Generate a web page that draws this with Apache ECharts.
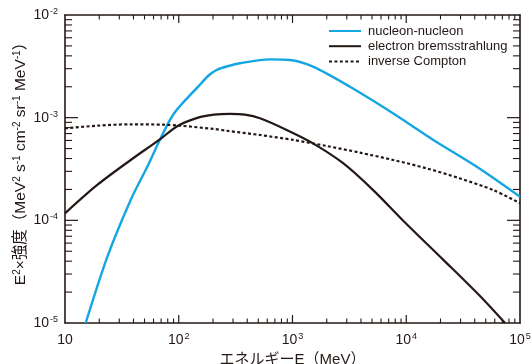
<!DOCTYPE html>
<html>
<head>
<meta charset="utf-8">
<script src="https://cdn.jsdelivr.net/npm/echarts@6/dist/echarts.min.js"></script>
<style>html,body{margin:0;padding:0;background:#fff;}#c{width:532px;height:364px;}</style>
</head>
<body>
<div id="c"></div>
<script>
// ---- data (E in MeV, E^2 x intensity in MeV^2 s^-1 cm^-2 sr^-1 MeV^-1) ----
const nnE   = [15.2, 23.6, 37.8, 52.9, 69.3, 90.8, 153.8, 182, 215, 263, 345, 631, 951, 1514, 3199, 7691, 17300, 41700, 100000];
const nnV   = [1.0e-5, 4.43e-5, 1.58e-4, 3.33e-4, 6.30e-4, 1.10e-3, 2.10e-3, 2.56e-3, 2.91e-3, 3.15e-3, 3.39e-3, 3.70e-3, 3.65e-3, 3.14e-3, 2.00e-3, 1.10e-3, 6.07e-4, 3.33e-4, 1.70e-4];
const ebE   = [10, 19.2, 37.8, 69.3, 97, 145.5, 204, 282, 382, 518, 889, 1514, 2786, 5117, 10000, 21200, 44500, 73800];
const ebV   = [1.17e-4, 2.21e-4, 3.87e-4, 6.22e-4, 8.26e-4, 9.95e-4, 1.07e-3, 1.09e-3, 1.07e-3, 9.86e-4, 7.59e-4, 5.62e-4, 3.60e-4, 1.97e-4, 9.27e-5, 4.12e-5, 1.83e-5, 1.0e-5];
const icE   = [10, 19.2, 37.8, 74.1, 103.5, 204, 263, 518, 1016, 1995, 3917, 7691, 15100, 29700, 58200, 100000];
const icV   = [7.87e-4, 8.35e-4, 8.62e-4, 8.54e-4, 8.35e-4, 7.76e-4, 7.46e-4, 6.78e-4, 6.07e-4, 5.30e-4, 4.56e-4, 3.87e-4, 3.21e-4, 2.56e-4, 1.97e-4, 1.47e-4];
const seriesNames = ['nucleon-nucleon', 'electron bremsstrahlung', 'inverse Compton'];
const xMajor = [10, 100, 1000, 10000, 100000];
const yMajor = [1e-5, 1e-4, 1e-3, 1e-2];
const xAxisName = 'エネルギーE（MeV）';
const yAxisNameRich = 'E{s|2}×強度（MeV{s|2} s{s|-1} cm{s|-2} sr{s|-1} MeV{s|-1}）';

const INK = '#231815';
const BLUE = '#14a6e2';
const xMin = 10, xMax = 1e5, yMin = 1e-5, yMax = 1e-2;

function zip(a, b) { return a.map((v, i) => [v, b[i]]); }

// minor tick values (2..9 in each decade)
const xMinor = [], yMinor = [];
for (let e = 1; e < 5; e++) for (let k = 2; k <= 9; k++) xMinor.push(k * Math.pow(10, e));
for (let e = -5; e < -2; e++) for (let k = 2; k <= 9; k++) yMinor.push(k * Math.pow(10, e));

const FONT = '"Liberation Sans", Arial, "Noto Sans CJK JP", sans-serif';

function tickLabel(isX) {
  return function (v) {
    const e = Math.round(Math.log10(v));
    if (isX && e === 1) return '{b|10}';
    return '{b|10}{s|' + e + '}';
  };
}
const labelRich = {
  b: { fontSize: 14, fontFamily: FONT, color: INK, lineHeight: 16 },
  s: { fontSize: 9, fontFamily: FONT, color: INK, lineHeight: 16, verticalAlign: 'top', padding: [0, 0, 0, 1] }
};

const chart = echarts.init(document.getElementById('c'), null, { renderer: 'canvas' });
const axisLineStyle = { color: INK, width: 1.6 };
const lineCommon = { type: 'line', symbol: 'none', showSymbol: false, smooth: 0.3, z: 3 };
chart.setOption({
  animation: false,
  backgroundColor: '#fff',
  grid: { left: 65, right: 12, top: 15, bottom: 41, containLabel: false, outerBoundsMode: 'none' },
  legend: {
    data: seriesNames,
    orient: 'vertical',
    left: 328, top: 24.5, padding: 0,
    itemWidth: 32, itemHeight: 14, itemGap: 2.2,
    itemStyle: { opacity: 0 },
    textStyle: { fontSize: 13, color: INK, fontFamily: FONT, padding: [0, 0, 0, 2] }
  },
  xAxis: [
    {
      type: 'log', logBase: 10, min: xMin, max: xMax, position: 'bottom',
      axisLine: { show: true, lineStyle: axisLineStyle },
      axisTick: { show: false },
      axisLabel: { formatter: tickLabel(true), rich: labelRich, margin: 9 },
      splitLine: { show: false },
      name: xAxisName, nameLocation: 'middle', nameGap: 22,
      nameTextStyle: { fontSize: 15, color: INK, fontFamily: FONT }
    },
    {
      type: 'log', logBase: 10, min: xMin, max: xMax, position: 'top',
      axisLine: { show: true, lineStyle: axisLineStyle },
      axisTick: { show: false }, axisLabel: { show: false }, splitLine: { show: false }
    }
  ],
  yAxis: [
    {
      type: 'log', logBase: 10, min: yMin, max: yMax, position: 'left',
      axisLine: { show: true, lineStyle: axisLineStyle },
      axisTick: { show: false },
      axisLabel: { formatter: tickLabel(false), rich: labelRich, margin: 7 },
      splitLine: { show: false }
    },
    {
      type: 'log', logBase: 10, min: yMin, max: yMax, position: 'right',
      axisLine: { show: true, lineStyle: axisLineStyle },
      axisTick: { show: false }, axisLabel: { show: false }, splitLine: { show: false }
    }
  ],
  series: [
    Object.assign({}, lineCommon, {
      name: seriesNames[0], data: zip(nnE, nnV),
      lineStyle: { color: BLUE, width: 2.4 }, itemStyle: { color: BLUE }
    }),
    Object.assign({}, lineCommon, {
      name: seriesNames[1], data: zip(ebE, ebV),
      lineStyle: { color: INK, width: 2.2 }, itemStyle: { color: INK }
    }),
    Object.assign({}, lineCommon, {
      name: seriesNames[2], data: zip(icE, icV),
      lineStyle: { color: INK, width: 2.2, type: [3, 2.4] }, itemStyle: { color: INK }
    })
  ]
});

// ticks (inside, all four sides) placed through the chart's own log scales
const xB = Number(chart.convertToPixel({ yAxisIndex: 0 }, yMin));
const xT = Number(chart.convertToPixel({ yAxisIndex: 0 }, yMax));
const yL = Number(chart.convertToPixel({ xAxisIndex: 0 }, xMin));
const yR = Number(chart.convertToPixel({ xAxisIndex: 0 }, xMax));
const els = [{
  type: 'text',
  x: 21, y: 160,
  rotation: Math.PI / 2,
  style: {
    text: yAxisNameRich,
    fill: INK,
    font: '15.5px ' + FONT,
    align: 'center', verticalAlign: 'middle',
    rich: { s: { fontSize: 10, fontFamily: FONT, fill: INK, lineHeight: 17, verticalAlign: 'top' } }
  }
}];
function tick(x1, y1, x2, y2, w) {
  els.push({ type: 'line', shape: { x1: x1, y1: y1, x2: x2, y2: y2 }, style: { stroke: INK, lineWidth: w } });
}
function xTicks(vals, len, w) {
  vals.forEach(function (v) {
    const px = Number(chart.convertToPixel({ xAxisIndex: 0 }, v));
    tick(px, xB, px, xB - len, w);
    tick(px, xT, px, xT + len, w);
  });
}
function yTicks(vals, len, w) {
  vals.forEach(function (v) {
    const py = Number(chart.convertToPixel({ yAxisIndex: 0 }, v));
    tick(yL, py, yL + len, py, w);
    tick(yR, py, yR - len, py, w);
  });
}
xTicks(xMajor.slice(1, -1), 8, 1.2);
xTicks(xMinor, 4.5, 1.1);
yTicks(yMajor.slice(1, -1), 13, 1.2);
yTicks(yMinor, 7, 1.1);
chart.setOption({ graphic: els });
</script>
</body>
</html>
